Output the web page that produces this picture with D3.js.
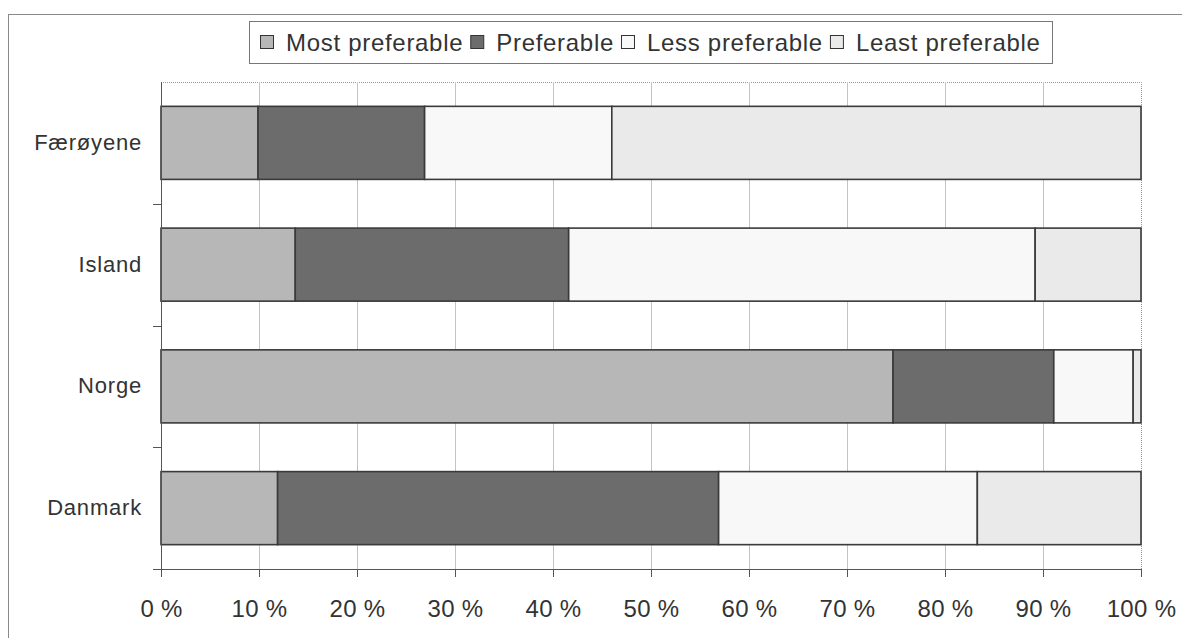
<!DOCTYPE html>
<html>
<head>
<meta charset="utf-8">
<script src="https://d3js.org/d3.v7.min.js"></script>
<style>
  body { margin: 0; background: #fff; }
  svg { font-family: "Liberation Sans", Arial, sans-serif; }
  .grid line { stroke: #c4c4c4; stroke-width: 1; }
  .axis path, .axis line { stroke: #555; shape-rendering: crispEdges; }
  .axis text { fill: #333; font-family: "Liberation Sans", Arial, sans-serif; }
  .x.axis text { font-size: 24px; letter-spacing: 0.3px; }
  .y.axis text { font-size: 22px; letter-spacing: 0.8px; }
</style>
</head>
<body>
<script>
var countries = ["Færøyene", "Island", "Norge", "Danmark"];
var seriesNames = ["Most preferable", "Preferable", "Less preferable", "Least preferable"];
var mostPreferable = [9.9, 13.7, 74.7, 11.9];
var preferable = [17.0, 27.9, 16.4, 45.0];
var lessPreferable = [19.1, 47.6, 8.1, 26.4];
var leastPreferable = [54.0, 10.8, 0.8, 16.7];
var xTicks = [0, 10, 20, 30, 40, 50, 60, 70, 80, 90, 100];
var colors = ["#b7b7b7", "#6c6c6c", "#f8f8f8", "#eaeaea"];

var width = 1182, height = 638;
var margin = { top: 82, right: 41, bottom: 69, left: 161 };
var w = width - margin.left - margin.right;
var h = height - margin.top - margin.bottom;

var rows = countries.map(function (c, i) {
  return { country: c, "Most preferable": mostPreferable[i], "Preferable": preferable[i],
    "Less preferable": lessPreferable[i], "Least preferable": leastPreferable[i] };
});
var stacked = d3.stack().keys(seriesNames)(rows);

var svg = d3.select("body").append("svg")
  .attr("width", width)
  .attr("height", height);

// outer chart frame
svg.append("rect")
  .attr("x", 8.5).attr("y", 14.5)
  .attr("width", 1200).attr("height", 700)
  .attr("fill", "none").attr("stroke", "#8a8a8a");

var g = svg.append("g").attr("transform", "translate(" + margin.left + "," + margin.top + ")");

var x = d3.scaleLinear().domain([0, 100]).range([0, w]);
var y = d3.scaleBand().domain(countries).range([0, h]).paddingInner(0.4).paddingOuter(0.2);
var yBand = d3.scaleBand().domain(countries).range([0, h]);

// plot area frame (dotted top and right)
g.append("path")
  .attr("d", "M0,0.5H" + (w + 0.5) + "V" + h)
  .attr("fill", "none").attr("stroke", "#999").attr("stroke-dasharray", "1,1");

// gridlines
g.append("g").attr("class", "grid")
  .selectAll("line").data(xTicks.slice(1, -1)).enter().append("line")
  .attr("x1", function (d) { return Math.round(x(d)) + 0.5; })
  .attr("x2", function (d) { return Math.round(x(d)) + 0.5; })
  .attr("y1", 0).attr("y2", h);

// bars
g.selectAll(".series")
  .data(stacked).enter().append("g")
  .attr("class", "series")
  .attr("fill", function (d, i) { return colors[i]; })
  .selectAll("rect")
  .data(function (d) { return d; })
  .enter().append("rect")
  .attr("x", function (d) { return x(d[0]); })
  .attr("width", function (d) { return x(d[1]) - x(d[0]); })
  .attr("y", function (d) { return y(d.data.country); })
  .attr("height", y.bandwidth())
  .attr("stroke", "#3a3a3a")
  .attr("stroke-width", 1.6);

// x axis
var xAxis = g.append("g").attr("class", "x axis")
  .attr("transform", "translate(0," + h + ")")
  .call(d3.axisBottom(x).tickValues(xTicks).tickSize(8).tickPadding(23)
    .tickFormat(function (d) { return d + " %"; }));
xAxis.select(".domain").attr("d", "M-8,0.5H" + w);

// y axis
var yAxis = g.append("g").attr("class", "y axis")
  .call(d3.axisLeft(yBand).tickSize(0).tickPadding(19));
yAxis.select(".domain").attr("d", "M0.5,0V" + h);
yAxis.selectAll(".cat-tick")
  .data(countries.slice(1)).enter().append("line")
  .attr("x1", -8).attr("x2", 0)
  .attr("y1", function (d) { return yBand(d) + 0.5; })
  .attr("y2", function (d) { return yBand(d) + 0.5; });

// legend
var legend = svg.append("g").attr("transform", "translate(249,21)");
legend.append("rect")
  .attr("x", 0.5).attr("y", 0.5).attr("width", 803).attr("height", 42)
  .attr("fill", "#fff").attr("stroke", "#777");
var items = legend.append("g");
var lx = 0;
seriesNames.forEach(function (name, i) {
  var item = items.append("g").attr("transform", "translate(" + lx + ",0)");
  item.append("rect")
    .attr("x", 0.5).attr("y", 14.5).attr("width", 13).attr("height", 13)
    .attr("fill", colors[i]).attr("stroke", "#333");
  var t = item.append("text")
    .attr("x", 26).attr("y", 30)
    .attr("font-size", 24).attr("letter-spacing", 0.7).attr("fill", "#333")
    .text(name);
  lx += 26 + t.node().getComputedTextLength() + 7;
});
var lw = lx - 7;
items.attr("transform", "translate(" + Math.round((803 - lw) / 2) + ",0)");
</script>
</body>
</html>
